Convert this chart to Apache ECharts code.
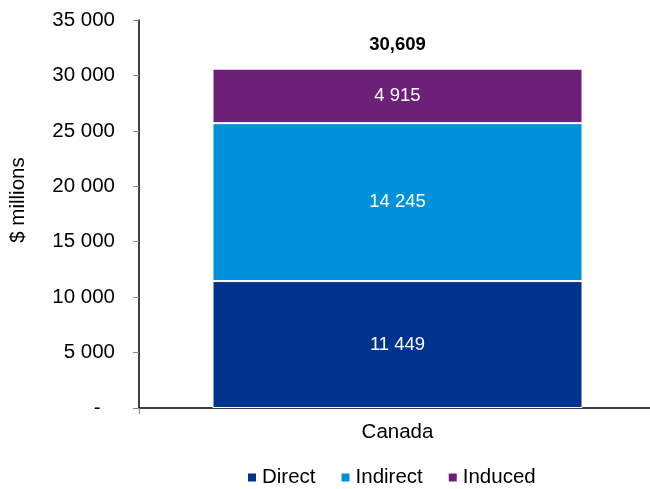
<!DOCTYPE html>
<html>
<head>
<meta charset="utf-8">
<script src="https://cdn.jsdelivr.net/npm/echarts@6/dist/echarts.min.js"></script>
<style>
html,body{margin:0;padding:0;background:#fff;overflow:hidden;width:650px;height:489px;}
#chart{width:656px;height:489px;}
</style>
</head>
<body>
<div id="chart"></div>
<script>
var categories = ['Canada'];
var seriesNames = ['Direct', 'Indirect', 'Induced'];
var direct = [11449];
var indirect = [14245];
var induced = [4915];
var totals = [30609];
var colors = ['#00338D', '#0091DA', '#6D2077'];
var yTicks = [0, 5000, 10000, 15000, 20000, 25000, 30000, 35000];

function fmtSpace(v) {
  return String(Math.round(v)).replace(/\B(?=(\d{3})+(?!\d))/g, ' ');
}
function fmtComma(v) {
  return String(Math.round(v)).replace(/\B(?=(\d{3})+(?!\d))/g, ',');
}

var FONT = '"Liberation Sans", Arial, sans-serif';
var values = [direct, indirect, induced];

var series = seriesNames.map(function (name, i) {
  return {
    name: name,
    type: 'bar',
    stack: 'total',
    barWidth: 370,
    data: values[i],
    itemStyle: { color: colors[i], borderColor: '#ffffff', borderWidth: 1 },
    label: {
      show: true,
      position: 'inside',
      color: '#ffffff',
      fontFamily: FONT,
      fontSize: 18.5,
      formatter: function (p) { return fmtSpace(p.value); }
    }
  };
});
series.push({
  name: 'Total',
  type: 'bar',
  stack: 'total',
  barWidth: 370,
  data: totals.map(function () { return 0; }),
  itemStyle: { color: 'transparent' },
  label: {
    show: true,
    position: 'top',
    distance: 14,
    color: '#000',
    fontWeight: 'bold',
    fontFamily: FONT,
    fontSize: 18.5,
    formatter: function (p) { return fmtComma(totals[p.dataIndex]); }
  }
});

var chart = echarts.init(document.getElementById('chart'), null, { renderer: 'canvas' });
chart.setOption({
  animation: false,
  backgroundColor: '#ffffff',
  textStyle: { fontFamily: FONT },
  grid: { left: 138, top: 20, bottom: 81, right: 0, containLabel: false },
  legend: {
    data: seriesNames,
    left: 246,
    top: 467,
    padding: 0,
    icon: 'rect',
    itemWidth: 10,
    itemHeight: 10,
    itemGap: 24,
    textStyle: { fontFamily: FONT, fontSize: 20.5, color: '#000' }
  },
  xAxis: {
    type: 'category',
    data: categories,
    axisLine: { lineStyle: { color: '#000', width: 1.5 } },
    axisTick: { show: true, length: 6, lineStyle: { color: '#888' } },
    axisLabel: { margin: 14, fontFamily: FONT, fontSize: 20.5, color: '#000' }
  },
  yAxis: {
    type: 'value',
    min: yTicks[0],
    max: yTicks[yTicks.length - 1],
    interval: yTicks[1] - yTicks[0],
    name: '$ millions',
    nameLocation: 'middle',
    nameGap: 110,
    nameTextStyle: { fontFamily: FONT, fontSize: 20.5, color: '#000', padding: [0, 0, 0, 28] },
    splitLine: { show: false },
    axisLine: { show: true, lineStyle: { color: '#000', width: 1.5 } },
    axisTick: { show: true, length: 6, lineStyle: { color: '#888' } },
    axisLabel: {
      margin: 24,
      fontFamily: FONT,
      fontSize: 20.5,
      color: '#000',
      formatter: function (v) { return v === 0 ? '-\u2002\u2009' : fmtSpace(v); }
    }
  },
  series: series
});
</script>
</body>
</html>
